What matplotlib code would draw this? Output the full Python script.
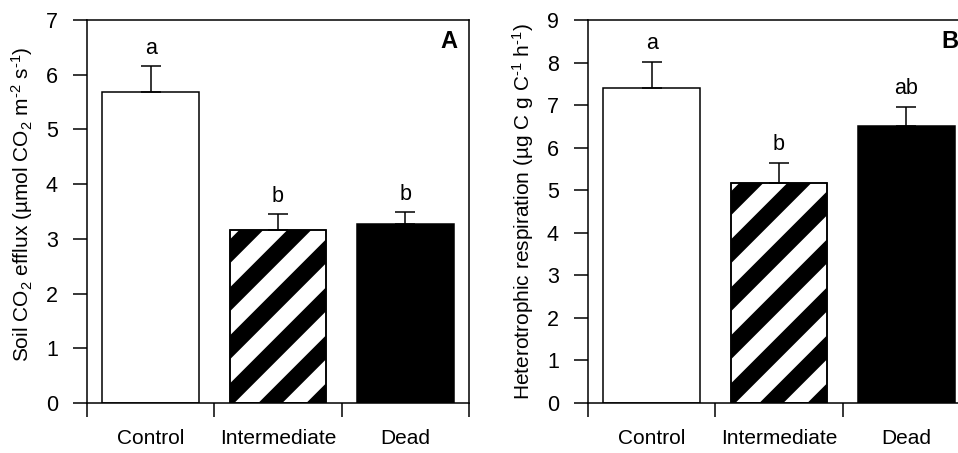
import numpy as np
import matplotlib
matplotlib.use("Agg")
from matplotlib import pyplot as plt
from matplotlib.patches import Polygon
from matplotlib.transforms import IdentityTransform
from matplotlib.ticker import FixedLocator, NullFormatter, FixedFormatter

# data
groups = ["Control", "Intermediate", "Dead"]
efflux = [5.68, 3.16, 3.27]          # panel A, soil CO2 efflux
efflux_se = [0.47, 0.29, 0.22]
efflux_letters = ["a", "b", "b"]
resp = [7.39, 5.17, 6.52]            # panel B, heterotrophic respiration
resp_se = [0.63, 0.47, 0.44]
resp_letters = ["a", "b", "ab"]

plt.rcParams['font.family'] = ['Liberation Sans', 'DejaVu Sans']
plt.rcParams['font.size'] = 15
plt.rcParams['mathtext.fontset'] = 'custom'
plt.rcParams['mathtext.rm'] = 'Liberation Sans'
plt.rcParams['mathtext.it'] = 'Liberation Sans:italic'
plt.rcParams['mathtext.default'] = 'regular'
plt.rcParams['axes.linewidth'] = 1.1

faces = ['white', 'white', 'black']
striped = [False, True, False]
STRIPE_P = 48   # vertical period of the diagonal stripes, px
STRIPE_W = 24   # black part of the period, px

fig = plt.figure(figsize=(9.58, 4.53), dpi=100)
axA = fig.add_axes([0.0908, 0.1104, 0.3987, 0.8455])
axB = fig.add_axes([0.6138, 0.1104, 0.3987, 0.8455])


def stripes(ax, rect):
    # wide black/white diagonal stripes clipped to the bar
    bb = rect.get_window_extent()
    x0, y0, W, H = bb.x0, bb.y0, bb.width, bb.height
    c = -W - STRIPE_P - 4
    while c < H + STRIPE_P:
        xa, xb = -10, W + 10
        pts = np.array([[xa, xa + c], [xb, xb + c],
                        [xb, xb + c + STRIPE_W], [xa, xa + c + STRIPE_W]])
        pts += [x0, y0]
        poly = Polygon(pts, closed=True, facecolor='black', edgecolor='none',
                       transform=IdentityTransform(), zorder=2.5)
        ax.add_patch(poly)
        poly.set_clip_path(rect)
        c += STRIPE_P


def panel(ax, vals, errs, letters, ymax, ylabel, tag, ly):
    x = np.arange(len(vals)) + 0.5
    ax.set_xlim(0, len(vals))
    ax.set_ylim(0, ymax)
    for xi, v, fc, st in zip(x, vals, faces, striped):
        bars = ax.bar(xi, v, width=0.76, color=fc, edgecolor='black', linewidth=1.1,
                      zorder=2)
        if st:
            stripes(ax, bars[0])
            ax.bar(xi, v, width=0.76, color='none', edgecolor='black', linewidth=1.1,
                   zorder=2.6)
    ax.errorbar(x, vals, yerr=[np.zeros(len(errs)), errs], fmt='none',
                ecolor='black', elinewidth=1.1, capsize=7.5, capthick=1.1, zorder=3)
    for xi, v, e, s in zip(x, vals, errs, letters):
        ax.annotate(s, (xi, v + e), xytext=(0, 9), textcoords='offset points',
                    ha='center', va='baseline', fontsize=15.5)
    ax.set_yticks(np.arange(0, ymax + 1))
    ax.xaxis.set_major_locator(FixedLocator(np.arange(len(vals) + 1)))
    ax.xaxis.set_major_formatter(NullFormatter())
    ax.xaxis.set_minor_locator(FixedLocator(x))
    ax.xaxis.set_minor_formatter(FixedFormatter(groups))
    ax.tick_params(axis='x', which='major', direction='out', length=10, width=1.1)
    ax.tick_params(axis='x', which='minor', length=0, pad=19, labelsize=15)
    ax.tick_params(axis='y', direction='out', length=10, width=1.1, pad=11, labelsize=15.5)
    ax.set_ylabel(ylabel, fontsize=15)
    ax.yaxis.set_label_coords(-0.136, ly)
    ax.text(0.971, 0.975, tag, transform=ax.transAxes, ha='right', va='top',
            fontsize=17, fontweight='bold')


panel(axA, efflux, efflux_se, efflux_letters, 7,
      'Soil CO$_2$ efflux (µmol CO$_2$ m$^{\u20102}$ s$^{\u20101}$)', 'A', 0.52)
panel(axB, resp, resp_se, resp_letters, 9,
      'Heterotrophic respiration (µg C g C$^{\u20101}$ h$^{\u20101}$)', 'B', 0.5)

fig.savefig('out.png', dpi=100)
